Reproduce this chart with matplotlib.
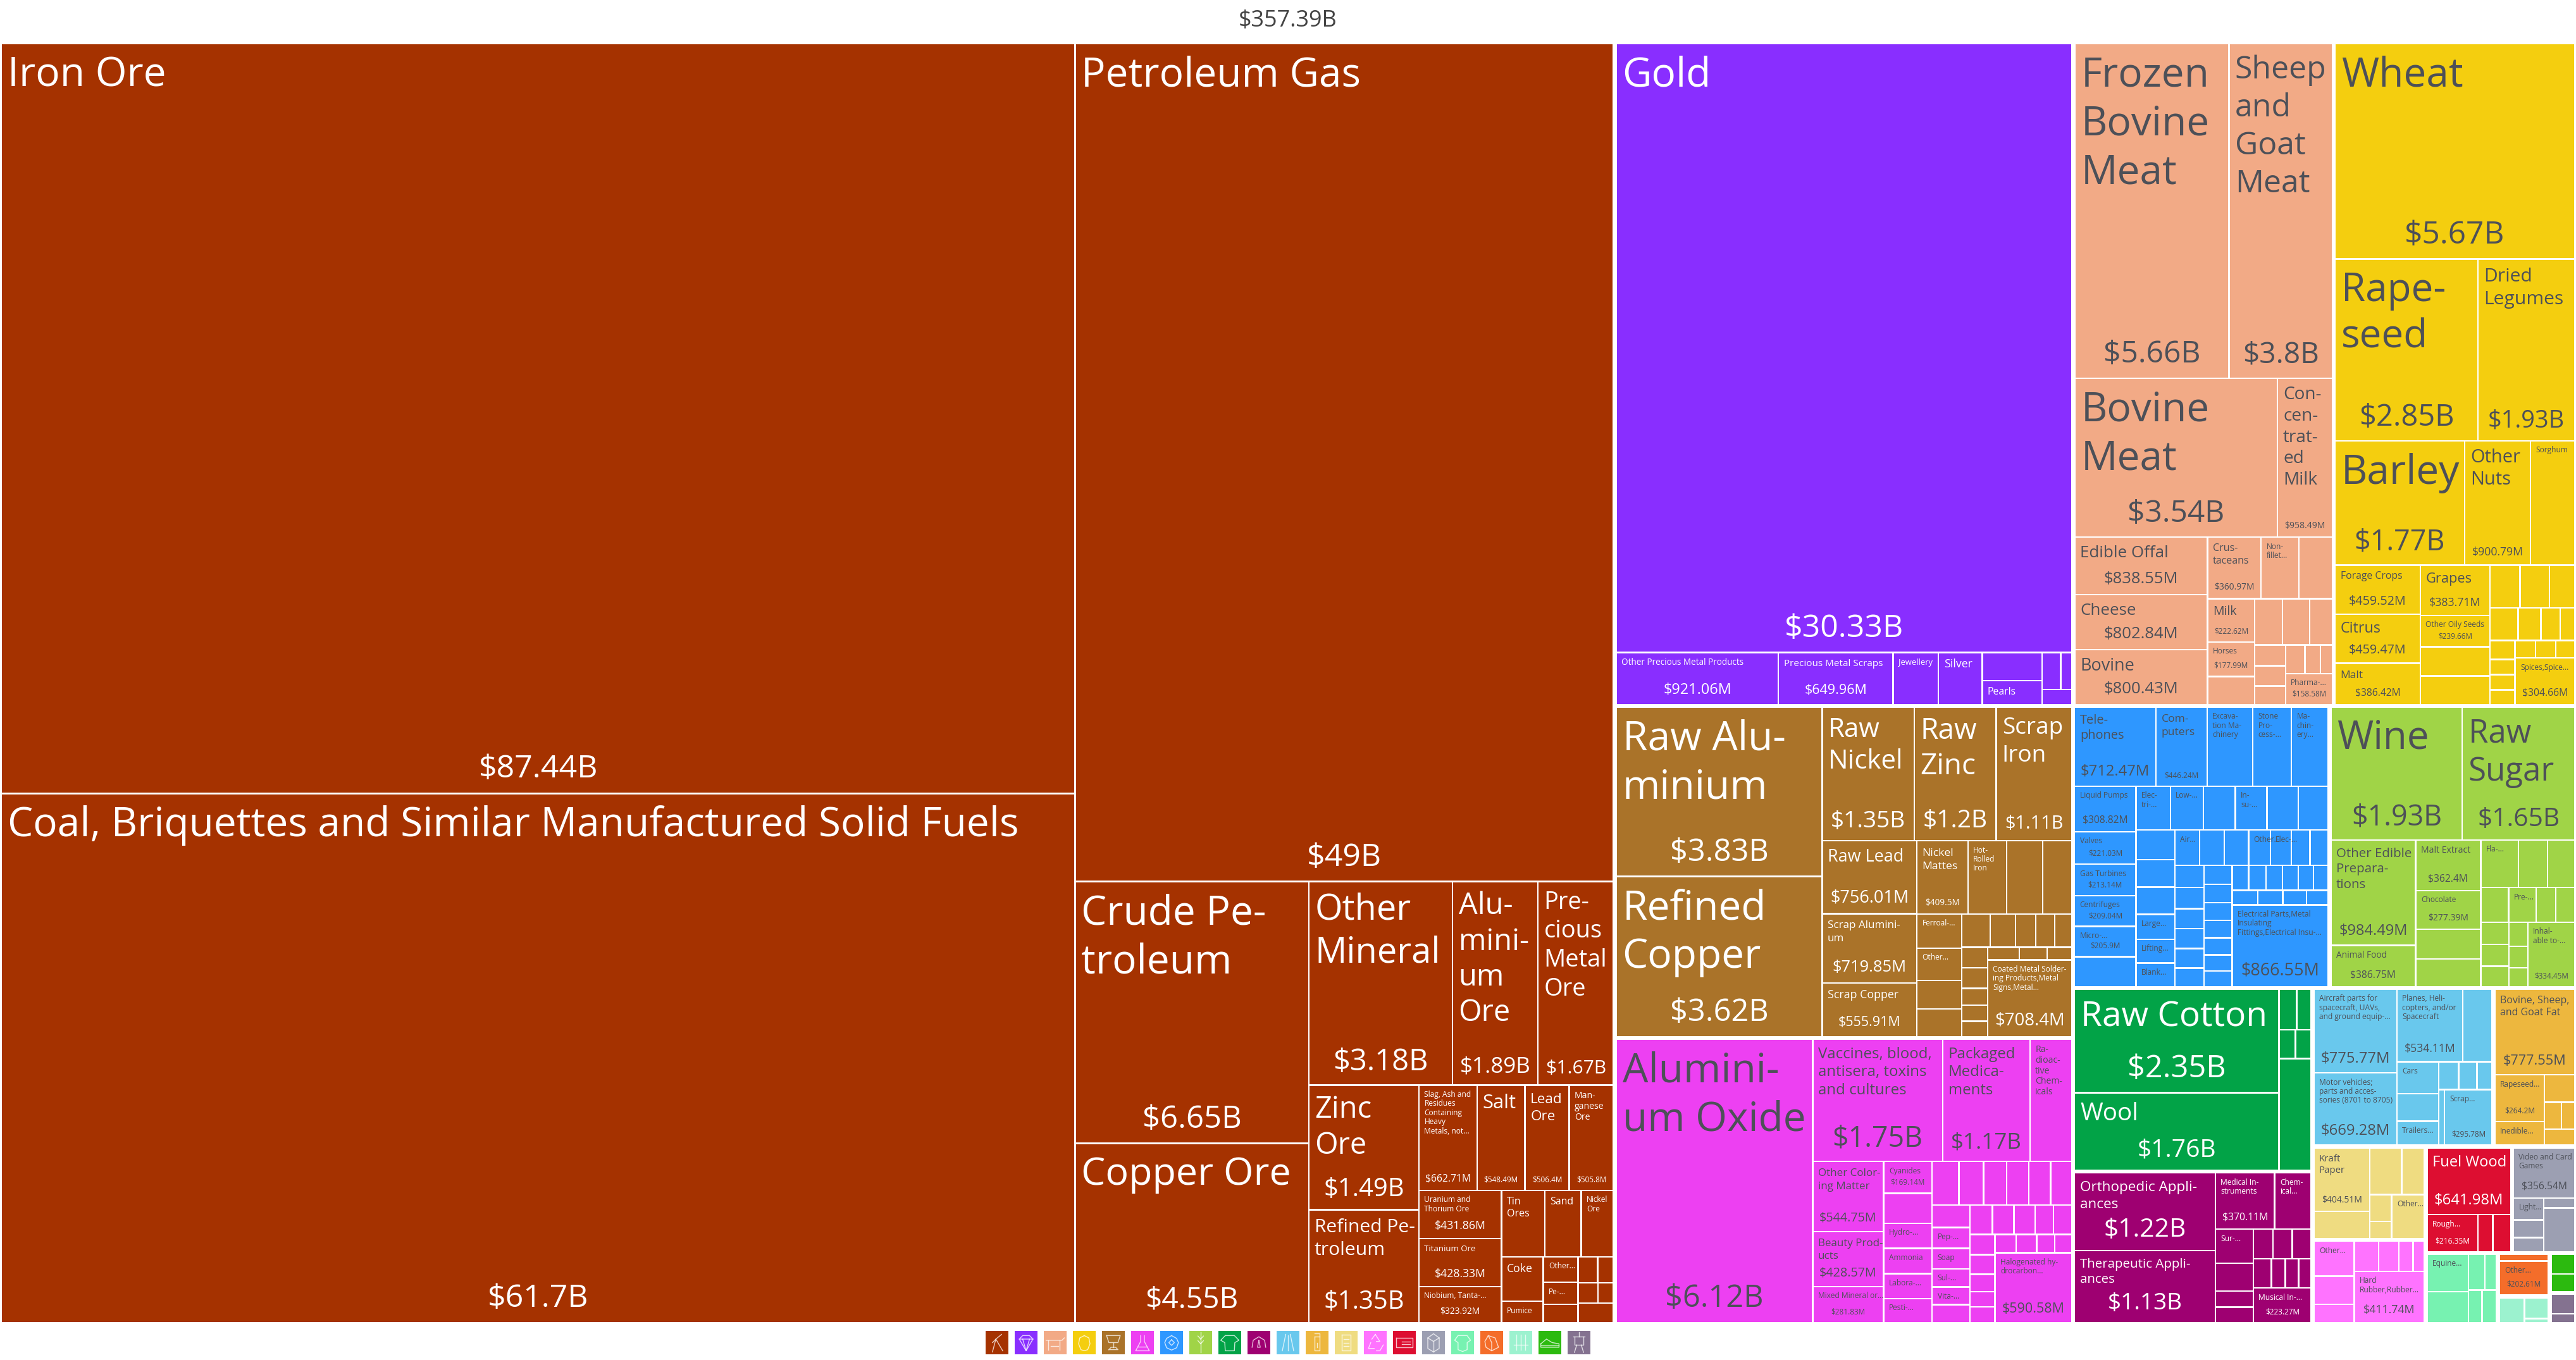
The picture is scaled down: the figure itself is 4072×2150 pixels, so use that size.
import matplotlib
matplotlib.use('Agg')
import matplotlib.pyplot as plt
from matplotlib.patches import Rectangle

plt.rcParams['font.family'] = ['Open Sans', 'DejaVu Sans']

# export values in $M, last item of each group is the grouped remainder
mineral_values = [87440, 61700, 49000, 6650, 4550, 3180, 1890, 1670, 1490, 1350, 662.71, 548.49, 506.4, 505.8,
                  431.86, 428.33, 323.92, 312, 262, 233, 202, 97, 97, 83, 70, 55, 45, 44, 34, 75]
mineral_labels = ['Iron Ore', 'Coal, Briquettes and Similar Manufactured Solid Fuels', 'Petroleum Gas',
                  'Crude Pe-\ntroleum', 'Copper Ore', 'Other\nMineral', 'Alu-\nmini-\num\nOre', 'Pre-\ncious\nMetal\nOre',
                  'Zinc\nOre', 'Refined Pe-\ntroleum', 'Slag, Ash and\nResidues\nContaining\nHeavy\nMetals, not...', 'Salt',
                  'Lead\nOre', 'Man-\nganese\nOre', 'Uranium and\nThorium Ore', 'Titanium Ore', 'Niobium, Tanta-...',
                  'Tin\nOres', 'Sand', 'Nickel\nOre', 'Coke', 'Pumice', 'Other...', 'Pe-...', None, None, None, None, None, None]

precious_values = [30330, 921.06, 649.96, 258, 248, 183, 156, 75, 46, 50]
precious_labels = ['Gold', 'Other Precious Metal Products', 'Precious Metal Scraps', 'Jewellery', 'Silver', None, 'Pearls',
                   None, None, None]

animal_values = [5660, 3800, 3540, 958.49, 838.55, 802.84, 800.43, 360.97, 255, 228, 222.62, 177.99, 145, 141, 136, 116,
                 71, 68, 63, 61.7, 49, 38, 158.58]
animal_labels = ['Frozen\nBovine\nMeat', 'Sheep\nand\nGoat\nMeat', 'Bovine\nMeat', 'Con-\ncen-\ntrat-\ned\nMilk', 'Edible Offal',
                 'Cheese', 'Bovine', 'Crus-\ntaceans', 'Non-\nfillet...', None, 'Milk', 'Horses', None, None, None, None,
                 None, None, None, None, None, None, 'Pharma-...']

vegetable_values = [5670, 2850, 1930, 1770, 900.79, 603, 459.52, 459.47, 386.42, 383.71, 239.66, 222, 218, 142, 138, 119,
                    101, 82, 69, 52, 52, 42, 42, 41, 39, 39, 36, 304.66]
vegetable_labels = ['Wheat', 'Rape-\nseed', 'Dried\nLegumes', 'Barley', 'Other\nNuts', 'Sorghum', 'Forage Crops', 'Citrus',
                    'Malt', 'Grapes', 'Other Oily Seeds', None, None, None, None, None,
                    None, None, None, None, None, None, None, None, None, None, None, 'Spices,Spice...']

metal_values = [3830, 3620, 1350, 1200, 1110, 756.01, 719.85, 555.91, 409.5, 310, 290, 235, 168, 158, 140, 135,
                105, 93, 74, 69, 63, 59, 59, 48, 46, 44, 43, 38, 34, 708.4]
metal_labels = ['Raw Alu-\nminium', 'Refined\nCopper', 'Raw\nNickel', 'Raw\nZinc', 'Scrap\nIron', 'Raw Lead',
                'Scrap Alumini-\num', 'Scrap Copper', 'Nickel\nMattes', 'Hot-\nRolled\nIron', None, None, 'Ferroal-...',
                'Other...', None, None, None, None, None, None, None, None, None, None, None, None, None, None, None,
                'Coated Metal Solder-\ning Products,Metal\nSigns,Metal...']

chemical_values = [6120, 1750, 1170, 565, 544.75, 428.57, 281.83, 169.14, 160, 134, 134, 134, 128, 127, 118, 110, 106, 104,
                   101, 93, 87, 85, 76, 73, 75, 73, 70, 68, 60, 60, 55, 54, 48, 42, 43, 42, 41, 36, 34, 590.58]
chemical_labels = ['Alumini-\num Oxide', 'Vaccines, blood,\nantisera, toxins\nand cultures', 'Packaged\nMedica-\nments',
                   'Ra-\ndioac-\ntive\nChem-\nicals', 'Other Color-\ning Matter', 'Beauty Prod-\nucts', 'Mixed Mineral or...',
                   'Cyanides', None, 'Hydro-...', 'Ammonia', 'Labora-...', 'Pesti-...', None, None, None, None, None, None,
                   None, 'Pep-...', 'Soap', 'Sul-...', 'Vita-...', None, None, None, None, None, None, None, None, None, None,
                   None, None, None, None, None, 'Halogenated hy-\ndrocarbon...']

machine_values = [712.47, 446.24, 400, 336, 322, 308.82, 221.03, 213.14, 209.04, 205.9, 203, 166, 160, 154, 152, 151, 145,
                  128, 118, 117, 107, 102, 101, 96, 96, 94, 85, 81, 73, 71, 71, 68, 64, 63, 63, 59, 59, 58, 55, 54, 53, 50,
                  49, 45, 48, 46, 43, 42, 41, 41, 40, 37.6, 35, 866.55]
machine_labels = ['Tele-\nphones', 'Com-\nputers', 'Excava-\ntion Ma-\nchinery', 'Stone\nPro-\ncess-...', 'Ma-\nchin-\nery...',
                  'Liquid Pumps', 'Valves', 'Gas Turbines', 'Centrifuges', 'Micro-...', None, 'Elec-\ntri-...', 'Low-...', None,
                  'In-\nsu-...', None, None, None, None, None, 'Large...', 'Lifting...', 'Blank...', 'Air...', None, None,
                  'Other...', 'Elec-...', None, None, None, None, None, None, None, None, None, None, None, None, None, None,
                  None, None, None, None, None, None, None, None, None, None, None,
                  'Electrical Parts,Metal\nInsulating\nFittings,Electrical Insu-...']

food_values = [1930, 1650, 984.49, 386.75, 362.4, 277.39, 213, 200, 198, 153, 142, 106, 105, 75, 72, 70, 68, 64, 50, 44, 39,
               334.45]
food_labels = ['Wine', 'Raw\nSugar', 'Other Edible\nPrepara-\ntions', 'Animal Food', 'Malt Extract', 'Chocolate', None, None,
               'Fla-...', None, None, None, 'Pre-...', None, None, None, None, None, None, None, None, 'Inhal-\nable to-...']

textile_values = [2350, 1760, 80, 66, 52, 50, 400]
textile_labels = ['Raw Cotton', 'Wool', None, None, None, None, None]

instrument_values = [1220, 1130, 370.11, 230, 144, 118, 68, 65, 64, 64, 63, 58, 45, 43, 41, 223.27]
instrument_labels = ['Orthopedic Appli-\nances', 'Therapeutic Appli-\nances', 'Medical In-\nstruments', 'Chem-\nical...', 'Sur-...',
                     None, None, None, None, None, None, None, None, None, None, 'Musical In-...']

transport_values = [775.77, 669.28, 534.11, 237, 149, 129, 112, 62, 57, 47, 36, 295.78]
transport_labels = ['Aircraft parts for\nspacecraft, UAVs,\nand ground equip-...', 'Motor vehicles;\nparts and acces-\nsories (8701 to 8705)',
                    'Planes, Heli-\ncopters, and/or\nSpacecraft', None, 'Cars', None, 'Trailers...', None, None, None, None, 'Scrap...']

oil_values = [777.55, 264.2, 133, 94.5, 52, 40, 55]
oil_labels = ['Bovine, Sheep,\nand Goat Fat', 'Rapeseed...', 'Inedible...', None, None, None, None]

paper_values = [404.51, 175, 170, 121, 67, 43, 164]
paper_labels = ['Kraft\nPaper', None, None, None, None, None, 'Other...']

plastic_values = [161, 129, 85, 84, 70, 48, 39, 411.74]
plastic_labels = ['Other...', None, None, None, None, None, None, 'Hard\nRubber,Rubber...']

wood_values = [641.98, 216.35, 62.5, 77]
wood_labels = ['Fuel Wood', 'Rough...', None, None]

misc_values = [356.54, 76, 62, 50, 35, 157]
misc_labels = ['Video and Card\nGames', 'Light...', None, None, None, None]

hide_values = [180, 150, 69, 48, 52, 55]
hide_labels = ['Equine...', None, None, None, None, None]

stone_values = [40, 202.61]
stone_labels = [None, 'Other...']

weapon_values = [80, 63, 12]
weapon_labels = [None, None, None]

footwear_values = [60, 54]
footwear_labels = [None, None]

art_values = [60, 28]
art_labels = [None, None]

total_text = '$357.39B'

groups = [
    (mineral_values, mineral_labels, '#A53200', 'white'),
    (precious_values, precious_labels, '#892EFF', 'white'),
    (animal_values, animal_labels, '#F2AA86', 'dark'),
    (vegetable_values, vegetable_labels, '#F4CE0F', 'dark'),
    (metal_values, metal_labels, '#AA7329', 'white'),
    (chemical_values, chemical_labels, '#ED40F2', 'dark'),
    (machine_values, machine_labels, '#2E97FF', 'dark'),
    (food_values, food_labels, '#A0D447', 'dark'),
    (textile_values, textile_labels, '#02A347', 'white'),
    (instrument_values, instrument_labels, '#9E0071', 'white'),
    (transport_values, transport_labels, '#69C8ED', 'dark'),
    (oil_values, oil_labels, '#EDB73E', 'dark'),
    (paper_values, paper_labels, '#EFDC81', 'dark'),
    (plastic_values, plastic_labels, '#FF73FF', 'dark'),
    (wood_values, wood_labels, '#DD0E31', 'white'),
    (misc_values, misc_labels, '#9C9FB2', 'dark'),
    (hide_values, hide_labels, '#77F2B1', 'dark'),
    (stone_values, stone_labels, '#F46D2A', 'dark'),
    (weapon_values, weapon_labels, '#9CF2CF', 'dark'),
    (footwear_values, footwear_labels, '#2CBA0F', 'dark'),
    (art_values, art_labels, '#847290', 'white'),
]

# font sizes in pixels, anything not listed gets DEFAULT_LABEL_PX / no amount
DEFAULT_LABEL_PX = 12
label_px = {
    'Iron Ore': 64, 'Coal, Briquettes and Similar Manufactured Solid Fuels': 64, 'Petroleum Gas': 64, 'Crude Pe-\ntroleum': 64,
    'Copper Ore': 61, 'Other\nMineral': 56, 'Alu-\nmini-\num\nOre': 47, 'Pre-\ncious\nMetal\nOre': 38, 'Zinc\nOre': 47,
    'Refined Pe-\ntroleum': 30, 'Salt': 31, 'Lead\nOre': 22.5, 'Man-\nganese\nOre': 14, 'Titanium Ore': 13.3, 'Tin\nOres': 16,
    'Sand': 16, 'Coke': 17.6, 'Gold': 64, 'Other Precious Metal Products': 13.5, 'Precious Metal Scraps': 15.3, 'Jewellery': 13,
    'Silver': 17.7, 'Pearls': 15.7, 'Frozen\nBovine\nMeat': 64, 'Sheep\nand\nGoat\nMeat': 50, 'Bovine\nMeat': 64,
    'Con-\ncen-\ntrat-\ned\nMilk': 28, 'Edible Offal': 26, 'Cheese': 26, 'Bovine': 27, 'Crus-\ntaceans': 16, 'Milk': 19.7,
    'Wheat': 64, 'Rape-\nseed': 62, 'Dried\nLegumes': 30, 'Barley': 64, 'Other\nNuts': 29, 'Forage Crops': 15.7, 'Grapes': 21.8,
    'Citrus': 23.4, 'Malt': 17.4, 'Raw Alu-\nminium': 64, 'Refined\nCopper': 64, 'Raw\nNickel': 42, 'Raw\nZinc': 46,
    'Scrap\nIron': 37, 'Raw Lead': 27, 'Nickel\nMattes': 17.5, 'Scrap Alumini-\num': 17, 'Scrap Copper': 17.7,
    'Alumini-\num Oxide': 64, 'Vaccines, blood,\nantisera, toxins\nand cultures': 24, 'Packaged\nMedica-\nments': 24,
    'Ra-\ndioac-\ntive\nChem-\nicals': 14, 'Other Color-\ning Matter': 17, 'Beauty Prod-\nucts': 17, 'Tele-\nphones': 20,
    'Com-\nputers': 17.5, 'Wine': 62, 'Raw\nSugar': 51, 'Other Edible\nPrepara-\ntions': 20.5, 'Malt Extract': 14,
    'Animal Food': 13.7, 'Raw Cotton': 55, 'Wool': 38.7, 'Orthopedic Appli-\nances': 22.5, 'Therapeutic Appli-\nances': 20.5,
    'Bovine, Sheep,\nand Goat Fat': 16, 'Kraft\nPaper': 15, 'Fuel Wood': 23.8,
}
value_px = {
    87440: 50, 61700: 50, 49000: 50, 6650: 49, 4550: 46, 3180: 47, 1890: 35, 1670: 30, 1490: 40, 1350: 40, 662.71: 15.6,
    548.49: 11.7, 506.4: 11.7, 505.8: 11.7, 431.86: 17.6, 428.33: 17.6, 323.92: 13.7, 30330: 50, 921.06: 23.5, 649.96: 21.5,
    5660: 48, 3800: 46, 3540: 48, 958.49: 14, 838.55: 25.6, 802.84: 25.6, 800.43: 25.6, 360.97: 13.8, 222.62: 11.8, 177.99: 11.8,
    158.58: 11.8, 5670: 49.5, 2850: 47, 1930: 38, 1770: 45, 900.79: 17.6, 459.52: 19.8, 459.47: 19.8, 386.42: 15.6, 383.71: 17.8,
    239.66: 11.7, 304.66: 15.8, 3830: 48.7, 3620: 48.7, 1200: 39, 1110: 29, 756.01: 27, 719.85: 25.5, 555.91: 21.5, 409.5: 13.6,
    708.4: 27.5, 6120: 48.7, 1750: 44.8, 1170: 35, 544.75: 19.8, 428.57: 19.8, 281.83: 11.7, 169.14: 11.7, 590.58: 21.5,
    712.47: 23.7, 446.24: 11.7, 308.82: 15.6, 221.03: 11.7, 213.14: 11.7, 209.04: 11.7, 205.9: 11.7, 866.55: 27, 1650: 40.7,
    984.49: 23.6, 386.75: 15.6, 362.4: 15.6, 277.39: 13.9, 334.45: 11.7, 2350: 48.7, 1760: 39, 1220: 40.7, 1130: 37,
    370.11: 15.8, 223.27: 11.7, 775.77: 23.7, 669.28: 23.7, 534.11: 17.6, 295.78: 11.7, 777.55: 21.7, 264.2: 12, 404.51: 13.9,
    411.74: 17.8, 641.98: 23.7, 216.35: 12, 356.54: 15.6, 202.61: 11.7,
}
# two products share the same amount but not the same size
value_px_by_label = {'Wine': 44.8, 'Raw\nNickel': 37}

# small outline icons for the legend, unit square, y down
icons = [
    [[(.3, .9), (.45, .35), (.7, .15)], [(.75, .85), (.45, .35), (.3, .5)]],
    [[(.2, .35), (.35, .2), (.65, .2), (.8, .35), (.5, .85), (.2, .35), (.8, .35)], [(.35, .35), (.5, .85), (.65, .35)]],
    [[(.1, .4), (.8, .4), (.9, .3)], [(.2, .4), (.2, .8)], [(.7, .4), (.7, .8)], [(.3, .65), (.65, .65)]],
    [[(.5, .2), (.7, .3), (.75, .55), (.65, .8), (.5, .85), (.35, .8), (.25, .55), (.3, .3), (.5, .2)]],
    [[(.2, .2), (.8, .2), (.7, .5), (.3, .5), (.2, .2)], [(.5, .5), (.5, .7)], [(.3, .8), (.7, .8), (.6, .7), (.4, .7), (.3, .8)]],
    [[(.42, .2), (.42, .45), (.2, .85), (.8, .85), (.58, .45), (.58, .2)], [(.3, .68), (.7, .68)]],
    [[(.5, .2), (.72, .32), (.8, .5), (.72, .72), (.5, .82), (.28, .72), (.2, .5), (.28, .32), (.5, .2)],
     [(.5, .38), (.62, .5), (.5, .62), (.38, .5), (.5, .38)]],
    [[(.5, .05), (.5, .92)], [(.5, .35), (.38, .22)], [(.5, .35), (.62, .22)], [(.5, .55), (.38, .42)], [(.5, .55), (.62, .42)]],
    [[(.3, .2), (.7, .2), (.9, .4), (.72, .5), (.7, .85), (.3, .85), (.28, .5), (.1, .4), (.3, .2)]],
    [[(.2, .7), (.25, .4), (.5, .25), (.75, .4), (.8, .7)], [(.5, .4), (.44, .7), (.56, .7), (.5, .4)]],
    [[(.4, .15), (.25, .85)], [(.6, .15), (.75, .85)], [(.5, .2), (.5, .85)]],
    [[(.4, .25), (.6, .25), (.6, .85), (.4, .85), (.4, .25)], [(.4, .12), (.6, .12), (.6, .25)], [(.5, .5), (.5, .7)]],
    [[(.3, .15), (.7, .15), (.7, .85), (.3, .85), (.3, .15)], [(.4, .35), (.6, .35)], [(.4, .5), (.6, .5)], [(.4, .65), (.6, .65)]],
    [[(.5, .15), (.7, .45), (.55, .45)], [(.3, .5), (.2, .75), (.45, .75)], [(.85, .6), (.7, .85), (.55, .85)], [(.5, .15), (.35, .35)]],
    [[(.15, .3), (.85, .3), (.85, .7), (.15, .7), (.15, .3)], [(.4, .45), (.75, .45)], [(.4, .58), (.75, .58)]],
    [[(.25, .3), (.5, .12), (.75, .3), (.75, .75), (.5, .9), (.25, .75), (.25, .3), (.5, .45), (.75, .3)], [(.5, .45), (.5, .9)]],
    [[(.3, .2), (.7, .2), (.85, .4), (.7, .5), (.7, .8), (.5, .88), (.3, .8), (.3, .5), (.15, .4), (.3, .2)]],
    [[(.35, .2), (.65, .3), (.8, .7), (.5, .85), (.25, .7), (.2, .45), (.35, .2), (.5, .5), (.5, .85)]],
    [[(.3, .15), (.3, .8)], [(.5, .15), (.5, .8)], [(.7, .15), (.7, .8)], [(.2, .6), (.8, .6)]],
    [[(.1, .55), (.35, .35), (.6, .5), (.9, .55), (.9, .7), (.1, .7), (.1, .55)], [(.1, .62), (.9, .62)]],
    [[(.25, .25), (.75, .25)], [(.3, .25), (.3, .6), (.7, .6), (.7, .25)], [(.5, .05), (.5, .25)], [(.4, .6), (.3, .92)], [(.6, .6), (.7, .92)]],
]


def squarify(values, x0, y0, x1, y1):
    # same row logic as d3 treemapSquarify, keeps the given order
    ratio = (1 + 5 ** 0.5) / 2
    rects = []
    remaining = float(sum(values))
    i0 = 0
    n = len(values)
    while i0 < n:
        dx = x1 - x0
        dy = y1 - y0
        i1 = i0 + 1
        total = values[i0]
        vmin = vmax = total
        alpha = max(dy / dx, dx / dy) / (remaining * ratio)
        beta = total * total * alpha
        best = max(vmax / beta, beta / vmin)
        while i1 < n:
            v = values[i1]
            new_total = total + v
            new_min = min(vmin, v)
            new_max = max(vmax, v)
            beta = new_total * new_total * alpha
            new_ratio = max(new_max / beta, beta / new_min)
            if new_ratio > best:
                break
            total, vmin, vmax, best = new_total, new_min, new_max, new_ratio
            i1 += 1
        row = values[i0:i1]
        if dx < dy:
            ny = y0 + dy * total / remaining if i1 < n else y1
            x = x0
            for v in row:
                w = dx * v / total
                rects.append((x, y0, x + w, ny))
                x += w
            y0 = ny
        else:
            nx = x0 + dx * total / remaining if i1 < n else x1
            y = y0
            for v in row:
                h = dy * v / total
                rects.append((x0, y, nx, y + h))
                y += h
            x0 = nx
        remaining -= total
        i0 = i1
    return rects


def money(v):
    if v >= 1000:
        return '$' + f'{v / 1000:.2f}'.rstrip('0').rstrip('.') + 'B'
    return '$' + f'{v:.2f}'.rstrip('0').rstrip('.') + 'M'


W, H = 4072, 2150
fig = plt.figure(figsize=(W / 100, H / 100), dpi=100)
ax = fig.add_axes([0, 0, 1, 1])
ax.set_xlim(0, W)
ax.set_ylim(H, 0)
ax.axis('off')

PX = 0.72  # px to pt at dpi 100
GAP = 1.2
ax.text(W / 2, 42, total_text, ha='center', va='baseline', fontsize=36 * PX, color='#444444')

group_rects = squarify([sum(g[0]) for g in groups], 0, 67, W, 2093)
for (values, labels, color, tone), (gx0, gy0, gx1, gy1) in zip(groups, group_rects):
    text_color = '#FFFFFF' if tone == 'white' else '#4D5058'
    for v, label, (x0, y0, x1, y1) in zip(values, labels, squarify(values, gx0 + 2, gy0 + 2, gx1 - 2, gy1 - 2)):
        ax.add_patch(Rectangle((x0 + GAP, y0 + GAP), x1 - x0 - 2 * GAP, y1 - y0 - 2 * GAP, facecolor=color, edgecolor='none'))
        if label:
            fs = label_px.get(label, DEFAULT_LABEL_PX)
            for i, line in enumerate(label.split('\n')):
                ax.text(x0 + 8 + 0.03 * fs, y0 + 7 + 0.95 * fs + i * 1.2 * fs, line, ha='left', va='baseline',
                        fontsize=fs * PX, color=text_color)
        if v in value_px:
            fs = value_px_by_label.get(label, value_px[v])
            ax.text((x0 + x1) / 2, y1 - 10 - 0.3 * fs, money(v), ha='center', va='baseline', fontsize=fs * PX, color=text_color)

# legend row of coloured squares
for i, (g, icon) in enumerate(zip(groups, icons)):
    lx = 1558 + i * 46
    ax.add_patch(Rectangle((lx, 2104), 36, 37, facecolor=g[2], edgecolor='none'))
    for poly in icon:
        ax.plot([lx + 36 * p[0] for p in poly], [2104 + 37 * p[1] for p in poly], color='white', alpha=0.75, lw=1.0)

fig.savefig('out.png', dpi=100, facecolor='white')
